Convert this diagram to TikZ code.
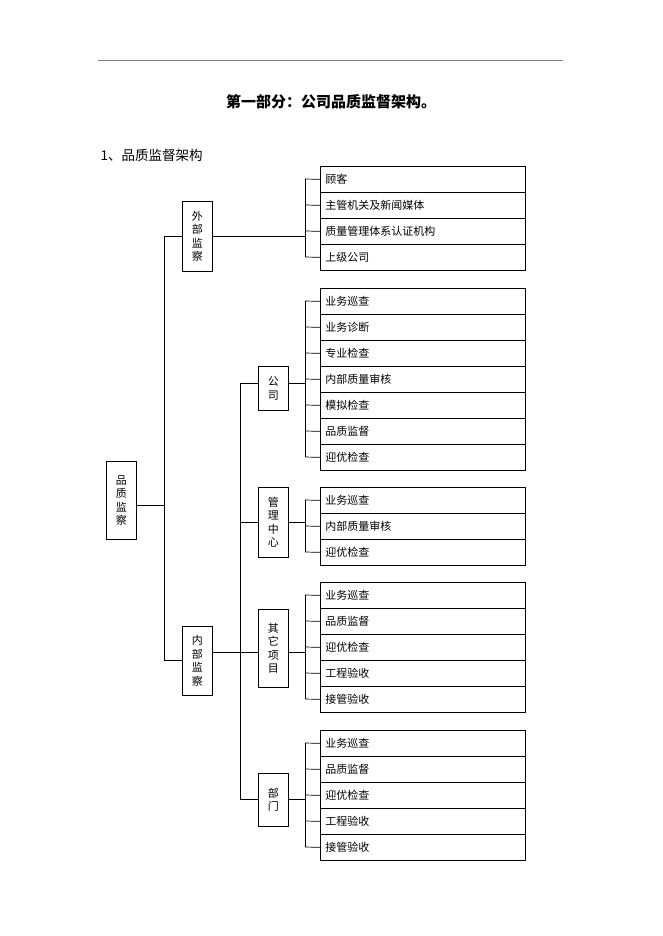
\documentclass[tikz,border=0pt]{standalone}
\usepackage{fontspec}
\setmainfont{Noto Sans CJK SC}
\begin{document}
\begin{tikzpicture}[x=1pt,y=-1pt,
  item/.style={draw,line width=0.7pt,minimum width=205pt,minimum height=26pt,anchor=north west,inner sep=0pt,text width=195pt,align=left,font=\fontsize{11}{12}\selectfont},
  vbox/.style={draw,line width=0.7pt,minimum width=30pt,anchor=north west,inner sep=0pt,align=center,font=\fontsize{11}{13.5}\selectfont},
  ln/.style={line width=0.7pt}]
\useasboundingbox (0,0) rectangle (662,936);
\draw[line width=0.4pt,gray] (98,60) -- (563,60);
\node[font=\fontsize{15}{16}\selectfont\bfseries] (title) at (331,102) {第一部分：公司品质监督架构。};
\node[anchor=west,font=\fontsize{13.5}{15}\selectfont] (sub) at (97,155) {1、品质监督架构};
% left boxes
\node[vbox,minimum height=78pt] (root) at (106,461) {品\\质\\监\\察};
\node[vbox,minimum height=70pt] (ext) at (182,201) {外\\部\\监\\察};
\node[vbox,minimum height=69pt] (int) at (182,626) {内\\部\\监\\察};
\node[vbox,minimum height=44pt] (gs) at (258,366) {公\\司};
\node[vbox,minimum height=70pt] (gl) at (258,487) {管\\理\\中\\心};
\node[vbox,minimum height=78pt] (qt) at (258,609) {其\\它\\项\\目};
\node[vbox,minimum height=53pt] (bm) at (258,773) {部\\门};
% item groups
\newcommand{\grp}[4]{% name, top y, list, parent y
  \foreach \t [count=\i] in {#3} {
    \node[item] (#1\i) at (320,{#2+26*(\i-1)}) {\t};
    \draw[ln] (305,{#2+13+26*(\i-1)}) -- (#1\i.west);
  }
}
\grp{a}{166}{顾客,主管机关及新闻媒体,质量管理体系认证机构,上级公司}{}
\grp{b}{288}{业务巡查,业务诊断,专业检查,内部质量审核,模拟检查,品质监督,迎优检查}{}
\grp{c}{487}{业务巡查,内部质量审核,迎优检查}{}
\grp{d}{582}{业务巡查,品质监督,迎优检查,工程验收,接管验收}{}
\grp{e}{730}{业务巡查,品质监督,迎优检查,工程验收,接管验收}{}
% brackets
\draw[ln] (305,179) -- (305,257);
\draw[ln] (305,301) -- (305,457);
\draw[ln] (305,500) -- (305,552);
\draw[ln] (305,595) -- (305,699);
\draw[ln] (305,743) -- (305,847);
\draw[ln] (ext.east |- 0,236) -- (305,236);
\draw[ln] (gs.east |- 0,383) -- (305,383);
\draw[ln] (gl.east |- 0,522) -- (305,522);
\draw[ln] (qt.east |- 0,652) -- (305,652);
\draw[ln] (bm.east |- 0,799) -- (305,799);
% trunk
\draw[ln] (root.east |- 0,505) -- (164,505);
\draw[ln] (164,236) -- (164,660);
\draw[ln] (164,236) -- (ext.west |- 0,236);
\draw[ln] (164,660) -- (int.west |- 0,660);
\draw[ln] (int.east |- 0,652) -- (240,652);
\draw[ln] (240,383) -- (240,799);
\draw[ln] (240,383) -- (gs.west |- 0,383);
\draw[ln] (240,522) -- (gl.west |- 0,522);
\draw[ln] (240,652) -- (qt.west |- 0,652);
\draw[ln] (240,799) -- (bm.west |- 0,799);
\end{tikzpicture}
\end{document}
